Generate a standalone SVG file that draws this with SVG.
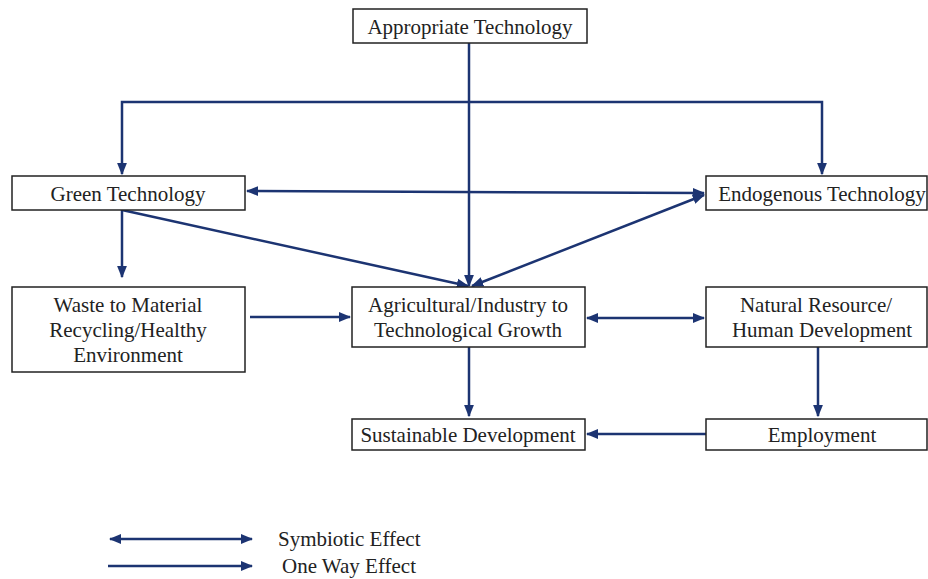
<svg xmlns="http://www.w3.org/2000/svg" width="928" height="579" viewBox="0 0 928 579">
<defs>
<marker id="ah" viewBox="0 0 10 10" refX="9" refY="5" markerWidth="5" markerHeight="5" orient="auto-start-reverse" markerUnits="strokeWidth">
<path d="M0,1 L10,5 L0,9 z" fill="#1c3472"/>
</marker>
<style>
.box{fill:#fff;stroke:#222;stroke-width:1.5}
.t{font-family:"Liberation Serif","Times New Roman",serif;font-size:21px;fill:#222;text-anchor:middle}
.l{font-family:"Liberation Serif","Times New Roman",serif;font-size:21px;fill:#222}
.c{fill:none;stroke:#1c3472;stroke-width:2.5}
.e{marker-end:url(#ah)}
.b{marker-start:url(#ah);marker-end:url(#ah)}
</style>
</defs>
<rect width="928" height="579" fill="#fff"/>
<g id="connectors">
<path class="c e" d="M469,43 V286"/>
<path class="c e" d="M469,102 H122 V174"/>
<path class="c e" d="M469,102 H822 V174"/>
<path class="c b" d="M247,191 L704,193"/>
<path class="c e" d="M122,210 L468,286"/>
<path class="c b" d="M704,195 L472,286"/>
<path class="c e" d="M122,210 V277"/>
<path class="c e" d="M250,317 H350"/>
<path class="c b" d="M587,318 H704"/>
<path class="c e" d="M469,347 V416"/>
<path class="c e" d="M818,347 V416"/>
<path class="c e" d="M706,434 H587"/>
</g>
<g id="n-appropriate"><rect class="box" x="353" y="9" width="234" height="34"/><text class="t" x="470" y="34">Appropriate Technology</text></g>
<g id="n-green"><rect class="box" x="12" y="176" width="233" height="34"/><text class="t" x="128" y="201">Green Technology</text></g>
<g id="n-endogenous"><rect class="box" x="706" y="176" width="221" height="34"/><text class="t" x="822" y="201">Endogenous Technology</text></g>
<g id="n-waste"><rect class="box" x="12" y="287" width="233" height="85"/><text class="t" x="128" y="312">Waste to Material</text><text class="t" x="128" y="337">Recycling/Healthy</text><text class="t" x="128" y="362">Environment</text></g>
<g id="n-agri"><rect class="box" x="352" y="287" width="233" height="60"/><text class="t" x="468" y="312">Agricultural/Industry to</text><text class="t" x="468" y="337">Technological Growth</text></g>
<g id="n-natural"><rect class="box" x="706" y="287" width="221" height="60"/><text class="t" x="816" y="312">Natural Resource/</text><text class="t" x="822" y="337">Human Development</text></g>
<g id="n-sustainable"><rect class="box" x="352" y="419" width="233" height="31"/><text class="t" x="468" y="442">Sustainable Development</text></g>
<g id="n-employment"><rect class="box" x="706" y="419" width="221" height="31"/><text class="t" x="822" y="442">Employment</text></g>
<g id="legend">
<path class="c b" d="M110,539 H252"/>
<path class="c e" d="M108,566 H252"/>
<text class="l" x="278" y="546">Symbiotic Effect</text>
<text class="l" x="282" y="573">One Way Effect</text>
</g>
</svg>
